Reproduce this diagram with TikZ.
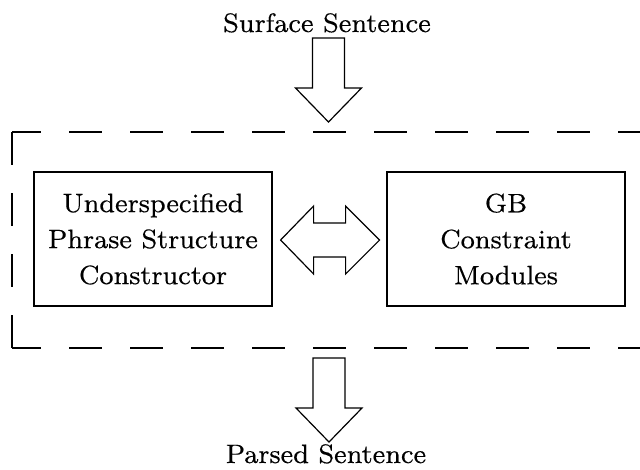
\documentclass[tikz,border=0pt]{standalone}
\usepackage{fontspec}
\newfontfamily\diagfont{lmroman8-regular.otf}[FakeBold=0.3]
\usetikzlibrary{calc}
\begin{document}
\begin{tikzpicture}[x=0.75pt,y=-0.75pt,
  line width=0.9pt,
  txt/.style={font=\diagfont\fontsize{20}{27}\selectfont},
  box/.style={draw, txt, minimum width=178.5pt, minimum height=100.5pt,
    align=center, inner sep=0pt},
  lbl/.style={txt, inner sep=0pt, anchor=base},
  blockarrow/.style={draw, line join=miter},
  frame/.style={dash pattern=on 24.75pt off 21pt}]
\useasboundingbox (0,0) rectangle (640,469);

% the two modules
\node[box] (usp) at (153,239) {Underspecified\\Phrase Structure\\Constructor};
\node[box] (gb)  at (506,239) {GB\\Constraint\\Modules};

% input and output labels
\node[lbl] (surf) at (327,32)  {Surface Sentence};
\node[lbl] (pars) at (326,463) {Parsed Sentence};

% dashed parser frame, open to the right
\coordinate (ftl) at (12,132);
\coordinate (fbl) at (12,348);
\draw[frame, dash phase=3pt] (ftl) -- (640,132);
\draw[frame] (ftl) -- (fbl);
\draw[frame, dash phase=3pt] (fbl) -- (640,348);

% block arrow into the frame
\coordinate (tin) at ($(surf.base)+(1.5,90)$);
\draw[blockarrow] (tin) -- ++(-33,-34) -- ++(17,0) -- ++(0,-50) -- ++(32,0)
  -- ++(0,50) -- ++(17,0) -- cycle;

% block arrow out of the frame
\coordinate (tout) at ($(pars.base)+(3,-21)$);
\draw[blockarrow] (tout) -- ++(-33,-34) -- ++(17,0) -- ++(0,-50) -- ++(32,0)
  -- ++(0,50) -- ++(17,0) -- cycle;

% two-way block arrow between the modules
\coordinate (dl) at ($(usp.east)+(8,1)$);
\draw[blockarrow] (dl) -- ++(33,-34) -- ++(0,17) -- ++(32,0) -- ++(0,-17)
  -- ++(34,34) -- ++(-34,34) -- ++(0,-17) -- ++(-32,0) -- ++(0,17) -- cycle;
\end{tikzpicture}
\end{document}
